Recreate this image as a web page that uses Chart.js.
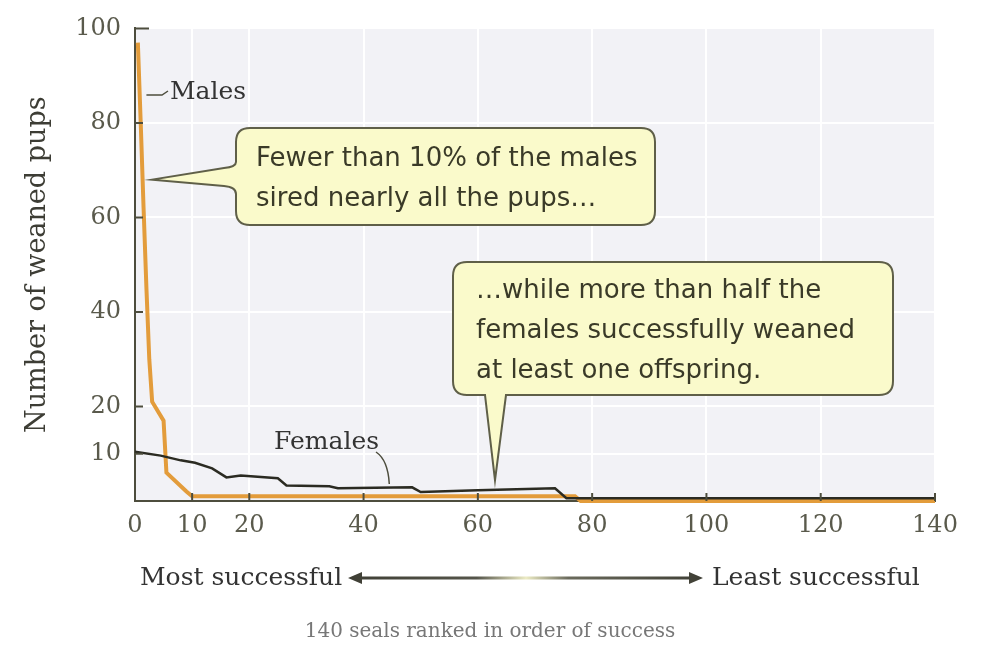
<!DOCTYPE html>
<html>
<head>
<meta charset="utf-8">
<script src="https://cdn.jsdelivr.net/npm/chart.js@4/dist/chart.umd.min.js"></script>
<style>
  html, body { margin: 0; padding: 0; background: #fff; }
  #wrap { width: 982px; height: 651px; }
</style>
</head>
<body>
<div id="wrap"><canvas id="sealsChart" width="982" height="651"></canvas></div>
<script>
// seals ranked by success (x) and number of weaned pups (y)
const maleRank = [0.5, 1, 1.5, 2, 2.5, 3, 5, 5.5, 9, 10, 77, 78, 140];
const malePups = [97, 80, 62, 45, 30, 21, 17, 6, 2, 1, 1, 0, 0];

const femaleRank = [0, 4.5, 8, 10.5, 13.5, 16, 18.5, 25, 26.5, 34, 35.5, 48.5, 50, 60, 73.5, 75.5, 140];
const femalePups = [10.4, 9.6, 8.6, 8.1, 6.9, 5.0, 5.4, 4.8, 3.3, 3.1, 2.7, 2.9, 1.9, 2.3, 2.7, 0.6, 0.6];

const xTicks = [0, 10, 20, 40, 60, 80, 100, 120, 140];
const yTicks = [10, 20, 40, 60, 80, 100];

const SERIF = "'DejaVu Serif', serif";
const SANS = "'DejaVu Sans', sans-serif";

// gray plot area behind the white grid
const plotBackground = {
  id: "plotBackground",
  beforeDraw(chart) {
    const { ctx, chartArea: a } = chart;
    ctx.save();
    ctx.fillStyle = "#f2f2f6";
    ctx.fillRect(a.left, a.top, a.right - a.left, a.bottom - a.top);
    ctx.restore();
  },
};

// yellow speech bubble, pointer goes out the left side or the bottom
function drawCallout(ctx, box, tip) {
  const { x, y, w, h, side, a, b } = box;
  const r = 14;
  ctx.beginPath();
  ctx.moveTo(x + r, y);
  ctx.lineTo(x + w - r, y);
  ctx.quadraticCurveTo(x + w, y, x + w, y + r);
  ctx.lineTo(x + w, y + h - r);
  ctx.quadraticCurveTo(x + w, y + h, x + w - r, y + h);
  if (side === "bottom") {
    ctx.lineTo(b, y + h);
    ctx.lineTo(tip.x, tip.y);
    ctx.lineTo(a, y + h);
  }
  ctx.lineTo(x + r, y + h);
  ctx.quadraticCurveTo(x, y + h, x, y + h - r);
  if (side === "left") {
    ctx.lineTo(x, b);
    ctx.quadraticCurveTo(x, b - 7, x - 12, b - 8);
    ctx.lineTo(tip.x, tip.y);
    ctx.lineTo(x - 12, a + 6);
    ctx.quadraticCurveTo(x, a + 5, x, a);
  }
  ctx.lineTo(x, y + r);
  ctx.quadraticCurveTo(x, y, x + r, y);
  ctx.closePath();
  ctx.fillStyle = "#fafacb";
  ctx.fill();
  ctx.strokeStyle = "#5f5f48";
  ctx.lineWidth = 2;
  ctx.stroke();
}

function drawLines(ctx, lines, x, y0, step) {
  lines.forEach((t, i) => ctx.fillText(t, x, y0 + i * step));
}

const annotations = {
  id: "annotations",
  afterDraw(chart) {
    const { ctx, chartArea: area, scales } = chart;
    const xs = scales.x;
    const ys = scales.y;
    ctx.save();

    // small tick marks pointing into the plot
    ctx.strokeStyle = "#4d4d3d";
    ctx.lineWidth = 2;
    ctx.beginPath();
    xTicks.forEach((v) => {
      if (v === 0) return;
      const px = xs.getPixelForValue(v);
      ctx.moveTo(px, area.bottom);
      ctx.lineTo(px, area.bottom - 8);
    });
    yTicks.forEach((v) => {
      const py = ys.getPixelForValue(v);
      ctx.moveTo(area.left, py);
      ctx.lineTo(area.left + (v === 100 ? 14 : 8), py);
    });
    ctx.stroke();

    // series labels
    ctx.fillStyle = "#333";
    ctx.font = "25px " + SERIF;
    ctx.textBaseline = "middle";
    ctx.textAlign = "left";
    ctx.lineWidth = 1.5;
    ctx.beginPath();
    ctx.moveTo(xs.getPixelForValue(2), 95);
    ctx.lineTo(162, 95);
    ctx.lineTo(168, 91);
    ctx.stroke();
    ctx.fillText("Males", 170, 92);
    ctx.fillText("Females", 274, 442);
    ctx.beginPath();
    ctx.moveTo(376, 452);
    ctx.quadraticCurveTo(388, 460, xs.getPixelForValue(44.5), ys.getPixelForValue(3.6));
    ctx.stroke();

    // callouts
    drawCallout(ctx, { x: 236, y: 128, w: 419, h: 97, side: "left", a: 162, b: 194 },
      { x: xs.getPixelForValue(3), y: ys.getPixelForValue(68) });
    drawCallout(ctx, { x: 453, y: 262, w: 440, h: 133, side: "bottom", a: 485, b: 506 },
      { x: xs.getPixelForValue(63), y: ys.getPixelForValue(4.4) });

    ctx.fillStyle = "#3a3a28";
    ctx.font = "26px " + SANS;
    drawLines(ctx, ["Fewer than 10% of the males", "sired nearly all the pups\u2026"], 256, 159, 40);
    drawLines(ctx, ["\u2026while more than half the", "females successfully weaned", "at least one offspring."], 476, 291, 40);

    // success direction under the x axis
    ctx.fillStyle = "#333";
    ctx.font = "25px " + SERIF;
    ctx.fillText("Most successful", 140, 578);
    ctx.fillText("Least successful", 712, 578);
    const grad = ctx.createLinearGradient(350, 0, 702, 0);
    grad.addColorStop(0, "#3f3f35");
    grad.addColorStop(0.36, "#55554a");
    grad.addColorStop(0.5, "#ecebc4");
    grad.addColorStop(0.62, "#6a6a5c");
    grad.addColorStop(1, "#3f3f35");
    ctx.strokeStyle = grad;
    ctx.fillStyle = grad;
    ctx.lineWidth = 3;
    ctx.beginPath();
    ctx.moveTo(356, 578);
    ctx.lineTo(694, 578);
    ctx.stroke();
    ctx.beginPath();
    ctx.moveTo(348, 578); ctx.lineTo(362, 572); ctx.lineTo(362, 584); ctx.closePath();
    ctx.moveTo(703, 578); ctx.lineTo(689, 572); ctx.lineTo(689, 584); ctx.closePath();
    ctx.fill();

    ctx.fillStyle = "#777";
    ctx.font = "20px " + SERIF;
    ctx.textAlign = "center";
    ctx.fillText("140 seals ranked in order of success", 490, 632);
    ctx.restore();
  },
};

const ctx = document.getElementById("sealsChart").getContext("2d");

const sealsChart = new Chart(ctx, {
  type: "line",
  data: {
    datasets: [
      {
        label: "Females",
        data: femaleRank.map((r, i) => ({ x: r, y: femalePups[i] })),
        borderColor: "#2b2b22",
        borderWidth: 2.5,
        pointRadius: 0,
        order: 0, // on top
        clip: 4,
      },
      {
        label: "Males",
        data: maleRank.map((r, i) => ({ x: r, y: malePups[i] })),
        borderColor: "#e39c3b",
        borderWidth: 4,
        pointRadius: 0,
        order: 1,
        clip: 4,
      },
    ],
  },
  options: {
    responsive: false,
    animation: false,
    devicePixelRatio: 1,
    layout: { padding: { left: 0, right: 47, top: 22, bottom: 0 } },
    plugins: {
      legend: { display: false },
      tooltip: { enabled: false },
    },
    scales: {
      x: {
        type: "linear",
        min: 0,
        max: 140,
        afterBuildTicks: (scale) => { scale.ticks = xTicks.map((v) => ({ value: v })); },
        afterFit: (scale) => { scale.height = 150; },
        grid: { color: "#ffffff", lineWidth: 2, drawTicks: false },
        border: { display: true, color: "#4d4d3d", width: 2 },
        ticks: { font: { family: SERIF, size: 24 }, color: "#5a5a4c", padding: 10, maxRotation: 0, autoSkip: false },
      },
      y: {
        min: 0,
        max: 100,
        afterBuildTicks: (scale) => { scale.ticks = yTicks.map((v) => ({ value: v })); },
        afterFit: (scale) => { scale.width = 135; },
        grid: { color: "#ffffff", lineWidth: 2, drawTicks: false },
        border: { display: true, color: "#4d4d3d", width: 2 },
        ticks: { font: { family: SERIF, size: 24 }, color: "#5a5a4c", padding: 14, autoSkip: false },
        title: {
          display: true,
          text: "Number of weaned pups",
          font: { family: SERIF, size: 27 },
          color: "#3d3d35",
          padding: { top: 22, bottom: 0 },
        },
      },
    },
  },
  plugins: [plotBackground, annotations],
});
</script>
</body>
</html>
